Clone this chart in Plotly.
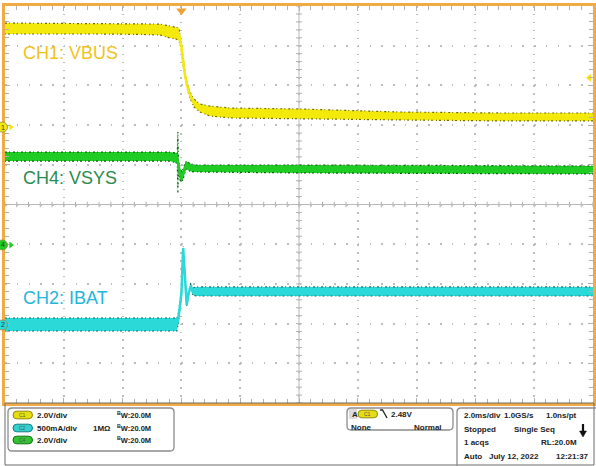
import plotly.graph_objects as go

W, H = 596, 466
# graticule box in page pixels: left, top, right, bottom
GL, GT, GR, GB = 5, 6, 593, 403

T_RANGE = [-6.0, 14.0]     # ms, trigger at t = 0 (2.0 ms/div)
Y_RANGE = [-5.0, 5.0]      # divisions

# channel scale (units/div) and ground-marker position (div)
CH1_SCALE, CH1_POS = 2.0, 1.95      # VBUS, V
CH4_SCALE, CH4_POS = 2.0, -1.02     # VSYS, V
CH2_SCALE, CH2_POS = 500.0, -3.035  # IBAT, mA
TRIG_LEVEL = 2.48                   # V on CH1

# CH1 VBUS envelope (V)
vbus_t = [-6.00, -4.13, -2.77, -1.41, -0.73, -0.39, -0.18, -0.08, -0.01, 0.05, 0.12,
          0.19, 0.29, 0.43, 0.63, 0.97, 1.65, 4.03, 7.44, 10.84, 14.00]
vbus_hi = [5.24, 5.22, 5.24, 5.22, 5.19, 5.09, 5.04, 4.99, 4.29, 3.43, 2.77,
           2.27, 1.77, 1.41, 1.16, 1.06, 0.96, 0.91, 0.76, 0.71, 0.71]
vbus_lo = [4.69, 4.70, 4.69, 4.67, 4.64, 4.49, 4.44, 4.34, 3.98, 3.13, 2.47,
           1.97, 1.47, 1.01, 0.76, 0.56, 0.46, 0.41, 0.36, 0.31, 0.31]

# CH4 VSYS envelope (V)
vsys_t = [-6.00, -2.77, -0.39, -0.18, -0.14, -0.12, -0.10, -0.05, 0.02, 0.09, 0.16,
          0.26, 0.43, 4.03, 14.00]
vsys_hi = [4.68, 4.68, 4.68, 4.63, 4.63, 5.69, 4.28, 3.88, 3.68, 3.98, 4.23,
           4.13, 4.03, 4.03, 3.98]
vsys_lo = [4.23, 4.23, 4.23, 4.13, 4.13, 2.62, 3.78, 3.27, 3.17, 3.48, 3.83,
           3.73, 3.68, 3.63, 3.58]

# CH2 IBAT envelope (mA)
ibat_t = [-6.00, -2.77, -0.15, -0.10, -0.05, 0.00, 0.06, 0.12, 0.18, 0.24, 0.32,
          0.38, 0.50, 4.03, 14.00]
ibat_hi = [88, 88, 88, 151, 277, 441, 995, 567, 277, 415, 529, 466, 479, 479, 479]
ibat_lo = [-76, -76, -76, 25, 151, 340, 944, 516, 227, 365, 466, 378, 365, 365, 365]

channels = [
    # name, number, t, hi, lo, scale, pos, fill colour, edge colour, label, label colour, label y(px)
    ("CH1", "1", vbus_t, vbus_hi, vbus_lo, CH1_SCALE, CH1_POS, "#f3ea0c", "#6f6a08",
     "CH1: VBUS", "#f1c21b", 53),
    ("CH4", "4", vsys_t, vsys_hi, vsys_lo, CH4_SCALE, CH4_POS, "#1fcc24", "#0b5e10",
     "CH4: VSYS", "#2b8c4e", 178),
    ("CH2", "2", ibat_t, ibat_hi, ibat_lo, CH2_SCALE, CH2_POS, "#2bd9d9", "#0f6a6a",
     "CH2: IBAT", "#25b5dc", 298),
]

FONT = "Liberation Sans, Arial, sans-serif"
DIV_PX = (GB - GT) / 10.0


def X(px):
    return px / W


def Y(py):
    return 1 - py / H


def rbox(x0, y0, x1, y1, r):
    """Rounded rectangle path in paper coordinates from pixel corners."""
    return (f"M {X(x0 + r)},{Y(y0)} L {X(x1 - r)},{Y(y0)} "
            f"Q {X(x1)},{Y(y0)} {X(x1)},{Y(y0 + r)} L {X(x1)},{Y(y1 - r)} "
            f"Q {X(x1)},{Y(y1)} {X(x1 - r)},{Y(y1)} L {X(x0 + r)},{Y(y1)} "
            f"Q {X(x0)},{Y(y1)} {X(x0)},{Y(y1 - r)} L {X(x0)},{Y(y0 + r)} "
            f"Q {X(x0)},{Y(y0)} {X(x0 + r)},{Y(y0)} Z")


fig = go.Figure()
shapes = []

for name, num, t, hi, lo, scale, pos, col, edge, label, lcol, ly in channels:
    hi_d = [v / scale + pos for v in hi]
    lo_d = [v / scale + pos for v in lo]
    mid_d = [(a + b) / 2 for a, b in zip(hi_d, lo_d)]
    fig.add_trace(go.Scatter(x=t, y=lo_d, mode="lines",
                             line=dict(color=edge, width=1.2, dash="1px,2px,2px,3px"),
                             opacity=0.9, hoverinfo="skip"))
    fig.add_trace(go.Scatter(x=t, y=hi_d, mode="lines", fill="tonexty", fillcolor=col,
                             line=dict(color=edge, width=1.2, dash="2px,2px,1px,3px"),
                             hoverinfo="skip"))
    fig.add_trace(go.Scatter(x=t, y=mid_d, mode="lines",
                             line=dict(color=col, width=2.5), hoverinfo="skip"))
    fig.add_annotation(x=X(21), y=Y(ly), xref="paper", yref="paper", text=label,
                       showarrow=False, xanchor="left", yanchor="middle",
                       font=dict(family=FONT, size=18, color=lcol))

    # ground marker on the left edge: arrow plus numbered disc
    fig.add_trace(go.Scatter(x=[-5.80], y=[pos], mode="markers",
                             marker=dict(symbol="triangle-right", size=6, color=col),
                             cliponaxis=False, hoverinfo="skip"))
    r_div = 5.0 / DIV_PX
    shapes.append(dict(type="circle", xref="paper", yref="y",
                       x0=X(-3), x1=X(7.5), y0=pos - r_div, y1=pos + r_div,
                       line=dict(color="#8a8a40", width=0.8), fillcolor=col))
    fig.add_annotation(x=X(2.8), y=pos, xref="paper", yref="y", text=num,
                       showarrow=False, xanchor="center", yanchor="middle",
                       font=dict(family=FONT, size=7, color="#333333"))

# trigger position (top) and trigger level (right edge)
fig.add_trace(go.Scatter(x=[0.0], y=[4.88], mode="markers",
                         marker=dict(symbol="triangle-down", size=9, color="#f0a030"),
                         cliponaxis=False, hoverinfo="skip"))
fig.add_trace(go.Scatter(x=[13.88], y=[TRIG_LEVEL / CH1_SCALE + CH1_POS], mode="markers",
                         marker=dict(symbol="triangle-left", size=7, color="#f3e020"),
                         cliponaxis=False, hoverinfo="skip"))

# centre cross with fine ticks
shapes.append(dict(type="line", xref="x", yref="y", x0=T_RANGE[0], x1=T_RANGE[1], y0=0, y1=0,
                   line=dict(color="#b9b9b9", width=1), layer="below"))
shapes.append(dict(type="line", xref="x", yref="y", x0=4, x1=4, y0=Y_RANGE[0], y1=Y_RANGE[1],
                   line=dict(color="#b9b9b9", width=1), layer="below"))
for i in range(51):
    tx = T_RANGE[0] + 0.4 * i
    shapes.append(dict(type="line", xref="x", yref="y", x0=tx, x1=tx, y0=-0.07, y1=0.07,
                       line=dict(color="#b0b0b0", width=1), layer="below"))
    ty = Y_RANGE[0] + 0.2 * i
    shapes.append(dict(type="line", xref="x", yref="y", x0=3.9, x1=4.1, y0=ty, y1=ty,
                       line=dict(color="#b0b0b0", width=1), layer="below"))

# status panel below the graticule
shapes.append(dict(type="rect", xref="paper", yref="paper", x0=X(5), x1=X(594), y0=Y(465), y1=Y(403),
                   line=dict(color="#6a6a6a", width=1), fillcolor="rgba(0,0,0,0)"))
for bx in [(8, 408, 174, 451), (347, 408, 453, 430), (457, 408, 600, 470)]:
    shapes.append(dict(type="path", xref="paper", yref="paper", path=rbox(*bx, 4),
                       line=dict(color="#8c8c8c", width=1.3), fillcolor="rgba(0,0,0,0)"))

pills = [(13, 415, "#e6de12", "#8f8a05", "C1"), (13, 428, "#34cfcf", "#157d7d", "C2"),
         (13, 440, "#32c232", "#136f13", "C4"), (358, 414, "#e6de12", "#8f8a05", "C1")]
for px0, pyc, pc, pe, ptxt in pills:
    shapes.append(dict(type="path", xref="paper", yref="paper",
                       path=rbox(px0, pyc - 3.8, px0 + 19.5, pyc + 3.8, 3.8),
                       line=dict(color=pe, width=1), fillcolor=pc))
    fig.add_annotation(x=X(px0 + 9.75), y=Y(pyc), xref="paper", yref="paper", text=ptxt,
                       showarrow=False, xanchor="center", yanchor="middle",
                       font=dict(family=FONT, size=5, color="#555555"))

# grey tag behind "A"
shapes.append(dict(type="rect", xref="paper", yref="paper", x0=X(349), x1=X(357), y0=Y(419), y1=Y(409),
                   line=dict(width=0), fillcolor="#dcdcdc"))
# falling-edge symbol
shapes.append(dict(type="path", xref="paper", yref="paper",
                   path=f"M {X(380)},{Y(410)} L {X(382.5)},{Y(410)} L {X(387)},{Y(418)}",
                   line=dict(color="#222222", width=1.3)))
# stop arrow
shapes.append(dict(type="line", xref="paper", yref="paper", x0=X(583), x1=X(583), y0=Y(424), y1=Y(431),
                   line=dict(color="#111111", width=2.2)))
shapes.append(dict(type="path", xref="paper", yref="paper",
                   path=f"M {X(579.5)},{Y(431)} L {X(586.5)},{Y(431)} L {X(583)},{Y(437)} Z",
                   line=dict(color="#111111", width=0.5), fillcolor="#111111"))

panel_text = [
    (35, 415, "2.0V/div", "left", 8), (153, 415, "<sup>B</sup>W:20.0M", "right", 7.5),
    (35, 428, "500mA/div", "left", 8), (113, 428, "1MΩ", "right", 8),
    (153, 428, "<sup>B</sup>W:20.0M", "right", 7.5),
    (35, 440, "2.0V/div", "left", 8), (153, 440, "<sup>B</sup>W:20.0M", "right", 7.5),
    (350, 414, "A", "left", 8), (389, 414, "2.48V", "left", 8),
    (349, 427, "None", "left", 8), (444, 427, "Normal", "right", 8),
    (462, 415, "2.0ms/div", "left", 8), (502, 415, "1.0GS/s", "left", 8),
    (579, 415, "1.0ns/pt", "right", 8),
    (462, 429, "Stopped", "left", 8), (512, 429, "Single Seq", "left", 8),
    (462, 442, "1 acqs", "left", 8), (579, 442, "RL:20.0M", "right", 8),
    (462, 456, "Auto", "left", 8), (487, 456, "July 12, 2022", "left", 8),
    (591, 456, "12:21:37", "right", 8),
]
for tx, ty, txt, anc, fs in panel_text:
    fig.add_annotation(x=X(tx), y=Y(ty), xref="paper", yref="paper", text=f"<b>{txt}</b>",
                       showarrow=False, xanchor=anc, yanchor="middle",
                       font=dict(family=FONT, size=fs, color="#222222"))

axis_common = dict(showticklabels=False, zeroline=False, showline=True,
                   linecolor="#f2aa45", linewidth=2.5, mirror="ticks",
                   ticks="inside", ticklen=5, tickcolor="#b0b0b0", tickwidth=1,
                   showgrid=True, gridcolor="#bdbdbd", gridwidth=1.5)

fig.update_layout(
    width=W, height=H, autosize=False,
    margin=dict(l=0, r=0, t=0, b=0),
    paper_bgcolor="white", plot_bgcolor="white",
    showlegend=False, shapes=shapes,
    xaxis=dict(range=T_RANGE, domain=[X(GL), X(GR)], tick0=T_RANGE[0], dtick=2,
               griddash="1.5px,6.44px",
               minor=dict(dtick=0.4, ticks="inside", ticklen=4, tickcolor="#b0b0b0", showgrid=False),
               **axis_common),
    yaxis=dict(range=Y_RANGE, domain=[Y(GB), Y(GT)], tick0=Y_RANGE[0], dtick=1,
               griddash="1.5px,10.26px",
               minor=dict(dtick=0.2, ticks="inside", ticklen=4, tickcolor="#b0b0b0", showgrid=False),
               **axis_common),
)

fig.write_html("out.html")
